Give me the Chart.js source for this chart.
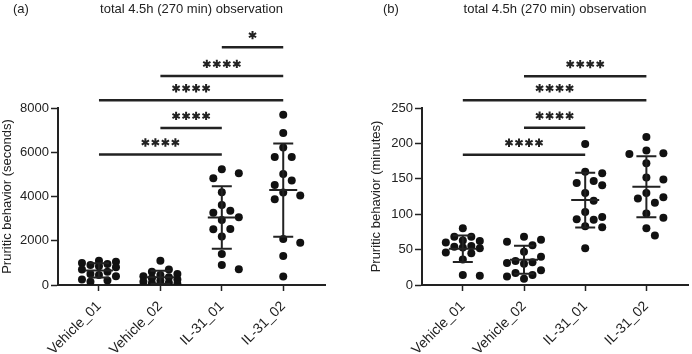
<!DOCTYPE html>
<html>
<head>
<meta charset="utf-8">
<script src="https://cdn.jsdelivr.net/npm/chart.js@4.4.1/dist/chart.umd.min.js"></script>
<style>
  html, body { margin: 0; padding: 0; background: #fff; }
  #wrap { position: relative; width: 692px; height: 354px; }
  .panel { position: absolute; top: 0; width: 346px; height: 354px; }
</style>
</head>
<body>
<div id="wrap">
  <div class="panel" style="left:0"><canvas id="chartA" width="346" height="354"></canvas></div>
  <div class="panel" style="left:346px"><canvas id="chartB" width="346" height="354"></canvas></div>
</div>
<script>
// groups on the x axis
const groups = ['Vehicle_01', 'Vehicle_02', 'IL-31_01', 'IL-31_02'];

// (a) seconds
const secVehicle01 = [1100, 850, 900, 1000, 1050, 950, 800, 700, 600, 500, 450, 400, 250, 200, 150];
const secVehicle02 = [1100, 700, 600, 500, 450, 400, 350, 300, 250, 200, 150, 100, 80, 50, 30];
const secIL31_01 = [5235, 5050, 4830, 4190, 3620, 3360, 3270, 3060, 2940, 2530, 2520, 2190, 1400, 900, 710];
const secIL31_02 = [7700, 6870, 6220, 5780, 5780, 5020, 4720, 4520, 4180, 4040, 3880, 2080, 1910, 1310, 380];
const secTicks = [0, 2000, 4000, 6000, 8000];
// [from group, to group, bar level, label]
const secComparisons = [
  [2, 3, 10750, '*'],
  [1, 3, 9450, '****'],
  [0, 3, 8350, '****'],
  [1, 2, 7100, '****'],
  [0, 2, 5900, '****']
];

// (b) minutes
const minVehicle01 = [80, 68, 68, 62, 60, 63, 54, 52, 55, 53, 45, 46, 36, 14, 13];
const minVehicle02 = [68, 61, 64, 56, 47, 40, 31, 32, 12, 17, 21, 30, 34, 9, 14];
const minIL31_01 = [199, 158, 160, 144, 147, 141, 130, 119, 103, 92, 93, 96, 81.5, 83, 52];
const minIL31_02 = [209, 190, 186, 185, 172, 149, 152, 130, 124, 122, 116, 101, 95, 80, 70];
const minTicks = [0, 50, 100, 150, 200, 250];
const minComparisons = [
  [1, 3, 295, '****'],
  [0, 3, 261, '****'],
  [1, 2, 222, '****'],
  [0, 2, 184, '****']
];

const FONT = '"Liberation Sans", Arial, Helvetica, sans-serif';
const INK = '#222';
Chart.defaults.font.family = FONT;
Chart.defaults.color = INK;

function mean(a) { return a.reduce((s, v) => s + v, 0) / a.length; }
function sd(a) {
  const m = mean(a);
  return Math.sqrt(a.reduce((s, v) => s + (v - m) ** 2, 0) / (a.length - 1));
}

// heavy six-armed asterisk like the stats software draws
function star(ctx, cx, cy, r) {
  ctx.beginPath();
  for (let k = 0; k < 3; k++) {
    const a = Math.PI / 2 + k * Math.PI / 3;
    ctx.moveTo(cx + r * Math.cos(a), cy + r * Math.sin(a));
    ctx.lineTo(cx - r * Math.cos(a), cy - r * Math.sin(a));
  }
  ctx.stroke();
}

// mean +/- SD bars, significance brackets, titles
const decor = {
  id: 'decor',
  afterDatasetsDraw(chart, args, o) {
    const { ctx, scales: { x, y } } = chart;
    ctx.save();
    ctx.strokeStyle = INK;
    ctx.lineWidth = 2;
    o.series.forEach((vals, i) => {
      const cx = x.getPixelForValue(i);
      const m = mean(vals), s = sd(vals);
      const yt = y.getPixelForValue(m + s), yb = y.getPixelForValue(m - s), ym = y.getPixelForValue(m);
      ctx.beginPath();
      ctx.moveTo(cx, yt); ctx.lineTo(cx, yb);
      ctx.moveTo(cx - 10, yt); ctx.lineTo(cx + 10, yt);
      ctx.moveTo(cx - 10, yb); ctx.lineTo(cx + 10, yb);
      ctx.moveTo(cx - 14, ym); ctx.lineTo(cx + 14, ym);
      ctx.stroke();
    });
    ctx.restore();
  },
  afterDraw(chart, args, o) {
    const { ctx, chartArea, scales: { x, y } } = chart;
    ctx.save();
    ctx.fillStyle = INK;
    ctx.font = '13px ' + FONT;
    ctx.textBaseline = 'middle';
    ctx.textAlign = 'left';
    ctx.fillText(o.tag, o.tagX, 9);
    ctx.textAlign = 'center';
    ctx.fillText(o.title, (chartArea.left + chartArea.right) / 2, 9);

    ctx.strokeStyle = INK;
    o.comparisons.forEach(([a, b, level, label]) => {
      const x1 = x.getPixelForValue(a), x2 = x.getPixelForValue(b);
      const ly = y.getPixelForValue(level);
      ctx.lineWidth = 2.5;
      ctx.beginPath();
      ctx.moveTo(x1, ly); ctx.lineTo(x2, ly);
      ctx.stroke();
      const mid = (x1 + x2) / 2;
      const n = label.length;
      ctx.lineWidth = 2;
      for (let k = 0; k < n; k++) {
        star(ctx, mid + (k - (n - 1) / 2) * 10, ly - 12, 4.2);
      }
    });
    ctx.restore();
  }
};

const STEP = 8.5, MIN_GAP = 10, MAX_STEPS = 2;
// spread points sideways (at most +/- 2 steps), overlapping where the column is crowded
function swarm(chart) {
  const { x, y } = chart.scales;
  const unit = x.getPixelForValue(1) - x.getPixelForValue(0);
  chart.data.datasets.forEach((ds, i) => {
    const placed = [];
    const order = ds.data.map((p, k) => k).sort((a, b) => ds.data[b].y - ds.data[a].y);
    order.forEach(k => {
      const py = y.getPixelForValue(ds.data[k].y);
      let best = 0, bestGap = -1;
      for (let n = 0; n <= MAX_STEPS * 2; n++) {
        const off = (n % 2 ? 1 : -1) * Math.ceil(n / 2) * STEP;
        const gap = placed.reduce((g, q) => Math.min(g, Math.hypot(q.x - off, q.y - py)), Infinity);
        if (gap >= MIN_GAP) { best = off; break; }
        if (gap > bestGap) { bestGap = gap; best = off; }
      }
      placed.push({ x: best, y: py });
      ds.data[k].x = i + best / unit;
    });
  });
  chart.update('none');
}

function createPanel(canvas, cfg) {
  const chart = new Chart(canvas.getContext('2d'), {
    type: 'scatter',
    data: {
      datasets: cfg.series.map((vals, i) => ({
        data: vals.map(v => ({ x: i, y: v })),
        pointRadius: 4,
        pointHoverRadius: 4,
        pointBackgroundColor: '#111',
        pointBorderWidth: 0
      }))
    },
    options: {
      responsive: false,
      animation: false,
      devicePixelRatio: 1,
      events: [],
      layout: { padding: { top: 108, left: cfg.padLeft, right: cfg.padRight, bottom: 0 } },
      plugins: {
        legend: { display: false },
        tooltip: { enabled: false },
        decor: {
          tag: cfg.tag, tagX: cfg.tagX, title: 'total 4.5h (270 min) observation',
          series: cfg.series, comparisons: cfg.comparisons
        }
      },
      scales: {
        x: {
          type: 'linear',
          min: -0.667,
          max: 3.68,
          afterBuildTicks: s => { s.ticks = groups.map((g, i) => ({ value: i })); },
          afterFit: s => { s.height = 69; },
          ticks: {
            callback: v => groups[v] ?? '',
            autoSkip: false,
            minRotation: 45,
            maxRotation: 45,
            padding: 7,
            font: { size: 14 },
            color: INK
          },
          grid: { drawOnChartArea: false, drawTicks: true, tickLength: 6, tickColor: INK, tickWidth: 1.5 },
          border: { display: true, color: INK, width: 2 }
        },
        y: {
          min: 0,
          max: cfg.ticks[cfg.ticks.length - 1],
          afterBuildTicks: s => { s.ticks = cfg.ticks.map(v => ({ value: v })); },
          afterFit: s => { s.width = cfg.yWidth; },
          ticks: { padding: 2, font: { size: 13 }, color: INK, callback: v => String(v) },
          grid: { drawOnChartArea: false, drawTicks: true, tickLength: 7, tickColor: INK, tickWidth: 1.5 },
          border: { display: true, color: INK, width: 2 },
          title: { display: true, text: cfg.yTitle, font: { size: 13 }, color: INK, padding: 0 }
        }
      }
    },
    plugins: [decor]
  });
  swarm(chart);
  return chart;
}

createPanel(document.getElementById('chartA'), {
  tag: '(a)', tagX: 13,
  yTitle: 'Pruritic behavior (seconds)',
  series: [secVehicle01, secVehicle02, secIL31_01, secIL31_02],
  ticks: secTicks,
  comparisons: secComparisons,
  padLeft: 0, padRight: 21, yWidth: 58
});

createPanel(document.getElementById('chartB'), {
  tag: '(b)', tagX: 37,
  yTitle: 'Pruritic behavior (minutes)',
  series: [minVehicle01, minVehicle02, minIL31_01, minIL31_02],
  ticks: minTicks,
  comparisons: minComparisons,
  padLeft: 23, padRight: 2, yWidth: 53
});
</script>
</body>
</html>
